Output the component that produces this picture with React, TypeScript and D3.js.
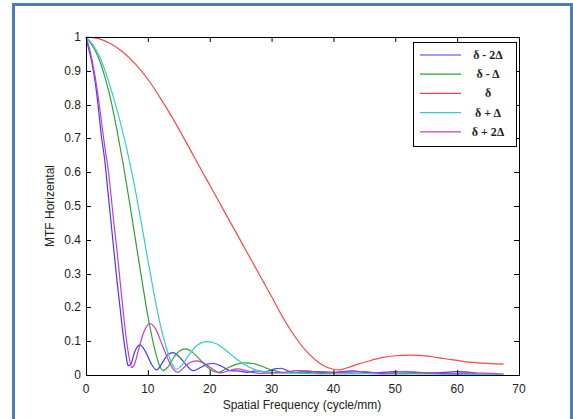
import React from 'react'
import * as d3 from 'd3'

// spatial frequency (cycle/mm) and MTF readings for each defocus case
const blueF = [0,0.5,1,1.5,2,2.5,3,3.5,4,4.5,5,5.5,6,6.5,6.8,7.2,7.8,8.7,9.6,10.5,11.4,12.3,13.2,14.1,15,16.2,17.3,18.5,19.6,20.6,22,23.5,24.5,26,27.5,29,30.5,31.5,33,35,37,40,43,46,50,53,56,60,63]
const blueV = [1,0.96,0.92,0.865,0.79,0.705,0.64,0.55,0.46,0.37,0.28,0.2,0.12,0.055,0.028,0.03,0.065,0.089,0.07,0.035,0.015,0.035,0.06,0.066,0.055,0.03,0.013,0.022,0.032,0.034,0.025,0.012,0.012,0.008,0.012,0.01,0.018,0.02,0.01,0.006,0.01,0.008,0.012,0.006,0.01,0.008,0.006,0.01,0.006]

const greenF = [0,1,2,3,4,5,6,7,8,9,10,11,11.8,12.5,13.3,14.3,15.2,16,17,18.2,19.5,20.5,21.4,22.5,24,25.7,27,28.5,30,31.5,33,35,38,41,45,50,55,60,64]
const greenV = [1,0.975,0.94,0.885,0.815,0.725,0.625,0.515,0.4,0.285,0.175,0.085,0.032,0.013,0.025,0.055,0.072,0.077,0.07,0.05,0.025,0.012,0.008,0.017,0.03,0.036,0.034,0.025,0.015,0.008,0.006,0.01,0.008,0.006,0.005,0.004,0.005,0.004,0.002]

const redF = [0,2,4,6,8,10,12,14,16,18,20,22,24,26,28,30,32,34,36,38,40,41,42,44,46,48,50,52,54,56,58,60,62,64,66,67.5]
const redV = [1,0.995,0.98,0.955,0.92,0.875,0.82,0.76,0.695,0.628,0.562,0.496,0.43,0.364,0.298,0.232,0.165,0.108,0.063,0.032,0.017,0.015,0.02,0.032,0.043,0.052,0.057,0.059,0.058,0.054,0.048,0.043,0.038,0.035,0.033,0.032]

const cyanF = [0,1,2,3,4,5,6,7,8,9,10,11,12,13,14,14.6,15.3,16.5,17.8,19.5,21,22.5,24,25.5,27,28.5,30,32,35,40,45,50,55,60,67.5]
const cyanV = [1,0.98,0.95,0.905,0.848,0.785,0.715,0.635,0.545,0.445,0.34,0.24,0.15,0.08,0.03,0.017,0.025,0.055,0.085,0.099,0.093,0.075,0.052,0.032,0.018,0.01,0.008,0.006,0.005,0.003,0.004,0.003,0.003,0.002,0.002]

const magF = [0,0.5,1,1.5,2,2.5,3,3.5,4,4.5,5,5.5,6,6.5,7,7.4,7.8,8.5,9.3,10.35,11.3,12.3,13.3,14.2,14.9,15.7,16.8,17.9,19,20.3,21.7,23,24.5,26,28,30,32,34,36,38,41,45,48,51,54,58,62,67.5]
const magV = [1,0.97,0.93,0.88,0.82,0.75,0.68,0.62,0.54,0.45,0.37,0.28,0.19,0.11,0.05,0.022,0.03,0.075,0.125,0.152,0.135,0.09,0.045,0.015,0.008,0.02,0.037,0.042,0.036,0.02,0.006,0.012,0.018,0.012,0.005,0.006,0.008,0.013,0.012,0.005,0.008,0.01,0.004,0.01,0.008,0.004,0.006,0.003]

const legendLabels = ['δ - 2Δ', 'δ - Δ', 'δ', 'δ + Δ', 'δ + 2Δ']
const colors = ['#3c3cff', '#35a035', '#ff4545', '#35cccc', '#c83cc8']
const xTicks = [0,10,20,30,40,50,60,70]
const yTicks = [0,0.1,0.2,0.3,0.4,0.5,0.6,0.7,0.8,0.9,1]
const yTickLabels = ['0','0.1','0.2','0.3','0.4','0.5','0.6','0.7','0.8','0.9','1']

const series = [[blueF, blueV], [greenF, greenV], [redF, redV], [cyanF, cyanV], [magF, magV]]

export default function App() {
  const W = 573, H = 419
  const left = 86, right = 519, top = 37, bottom = 375
  const x = d3.scaleLinear().domain([0, 70]).range([left, right])
  const y = d3.scaleLinear().domain([0, 1]).range([bottom, top])
  const line = d3.line<[number, number]>().x(d => x(d[0])).y(d => y(d[1])).curve(d3.curveMonotoneX)
  const font = '"Liberation Sans", Arial, sans-serif'
  const tk = 5

  return (
    <div style={{ position: 'fixed', left: 0, top: 0 }}>
      <svg width={W} height={H} style={{ display: 'block' }}>
        <rect x={0} y={0} width={W} height={H} fill="#fff" />
        <rect x={13.5} y={4.5} width={558} height={430} fill="none" stroke="#4a7ebb" strokeWidth={3} />
        <g>
          {series.map(([fs, vs], i) => (
            <path key={i} d={line(fs.map((f, j) => [f, vs[j]] as [number, number])) || ''}
              fill="none" stroke={colors[i]} strokeWidth={1.2} />
          ))}
        </g>
        <rect x={left + 0.5} y={top + 0.5} width={right - left} height={bottom - top} fill="none" stroke="#000" strokeWidth={1} />
        {xTicks.map(t => (
          <g key={'x' + t}>
            <line x1={x(t) + 0.5} x2={x(t) + 0.5} y1={bottom} y2={bottom - tk} stroke="#000" />
            <line x1={x(t) + 0.5} x2={x(t) + 0.5} y1={top} y2={top + tk} stroke="#000" />
            <text x={x(t)} y={393} textAnchor="middle" fontFamily={font} fontSize={12} fill="#222">{t}</text>
          </g>
        ))}
        {yTicks.map((t, i) => (
          <g key={'y' + t}>
            <line x1={left} x2={left + tk} y1={Math.round(y(t)) + 0.5} y2={Math.round(y(t)) + 0.5} stroke="#000" />
            <line x1={right} x2={right - tk} y1={Math.round(y(t)) + 0.5} y2={Math.round(y(t)) + 0.5} stroke="#000" />
            <text x={81} y={y(t) + 4} textAnchor="end" fontFamily={font} fontSize={12} fill="#222">{yTickLabels[i]}</text>
          </g>
        ))}
        <text x={302} y={409} textAnchor="middle" fontFamily={font} fontSize={12} fill="#222">Spatial Frequency (cycle/mm)</text>
        <text transform={`translate(54,206) rotate(-90)`} textAnchor="middle" fontFamily={font} fontSize={12} fill="#222">MTF Horizental</text>
        <g>
          <rect x={413.5} y={42.5} width={103} height={104} fill="#fff" stroke="#000" strokeWidth={1} />
          {legendLabels.map((l, i) => (
            <g key={l}>
              <line x1={420} x2={461} y1={55 + i * 19.2} y2={55 + i * 19.2} stroke={colors[i]} strokeWidth={1.2} />
              <text x={488} y={59 + i * 19.2} textAnchor="middle" fontFamily='"Liberation Serif", "Times New Roman", serif' fontWeight="bold" fontSize={12} fill="#222">{l}</text>
            </g>
          ))}
        </g>
      </svg>
    </div>
  )
}
